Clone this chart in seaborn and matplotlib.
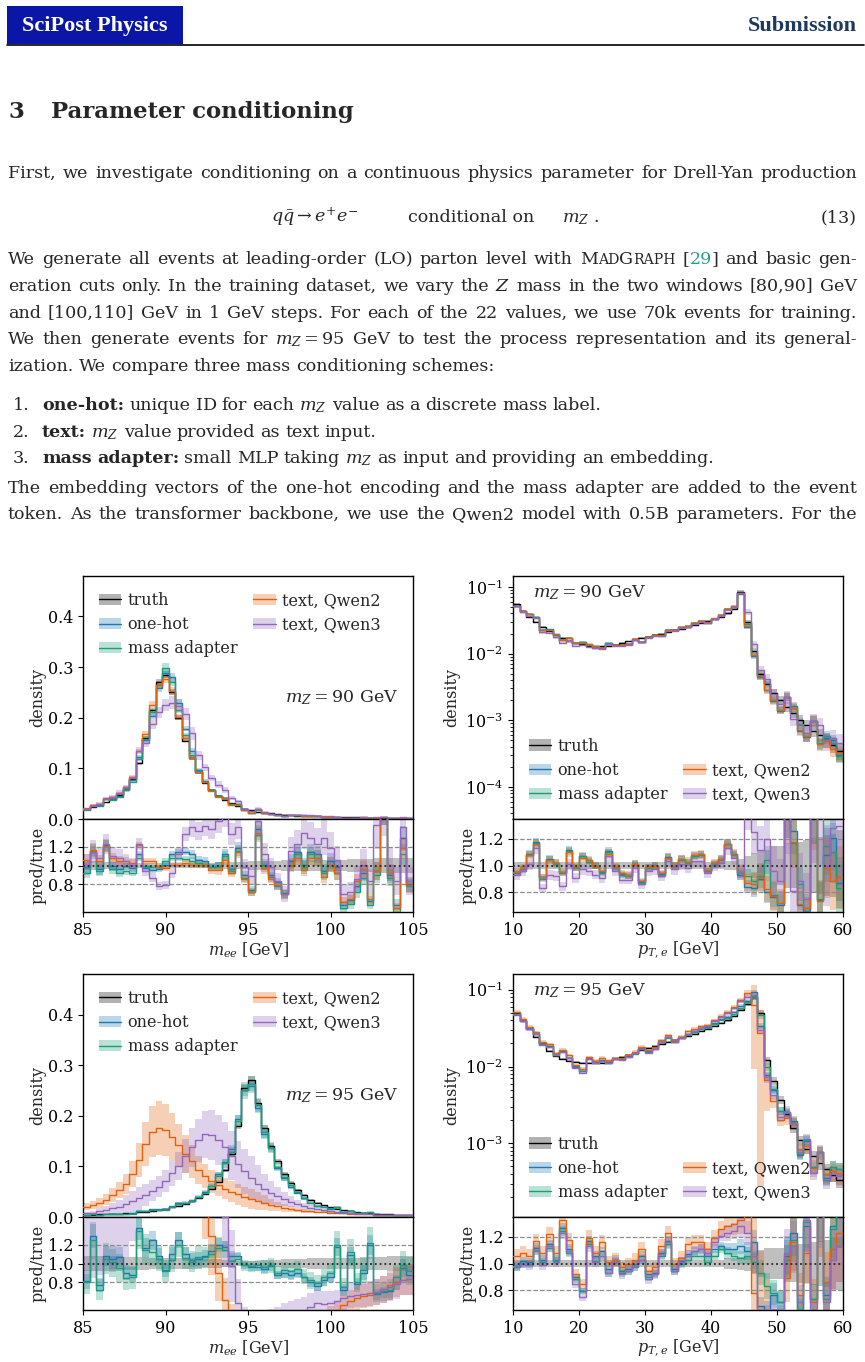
import matplotlib
matplotlib.use("Agg")
import matplotlib.pyplot as plt
import numpy as np
import seaborn as sns
from matplotlib.lines import Line2D
from matplotlib.patches import Patch, Rectangle

# ---------------- data ----------------
models = ["truth", "one-hot", "mass adapter", "text, Qwen2", "text, Qwen3"]
colors = {"truth": "black", "one-hot": "#1f78b4", "mass adapter": "#1b9e77",
          "text, Qwen2": "#e1620d", "text, Qwen3": "#9467bd"}

mee_edges = np.linspace(85, 105, 51)
pt_edges = np.linspace(10, 60, 51)

# m_Z = 90 GeV, m_ee
truth_mee90 = [
    0.020, 0.023, 0.028, 0.033, 0.040, 0.048, 0.060, 0.080, 0.110, 0.160,
    0.215, 0.270, 0.285, 0.250, 0.200, 0.155, 0.120, 0.092, 0.072, 0.058,
    0.046, 0.037, 0.031, 0.025, 0.020, 0.017, 0.014, 0.012, 0.011, 0.0095,
    0.0085, 0.0075, 0.0068, 0.0062, 0.0056, 0.0050, 0.0046, 0.0042, 0.0039, 0.0036,
    0.0034, 0.0032, 0.0030, 0.0028, 0.0026, 0.0025, 0.0024, 0.0023, 0.0022, 0.0021]
r_onehot_mee90 = [
    0.98, 1.14, 0.96, 1.22, 0.99, 0.96, 0.99, 0.97, 1.12, 0.97,
    0.95, 0.96, 1.01, 1.12, 1.15, 1.15, 1.12, 1.06, 1.05, 0.98,
    0.99, 1.12, 0.96, 1.19, 0.90, 0.74, 1.39, 1.01, 0.90, 0.82,
    0.70, 1.05, 1.14, 1.01, 1.15, 1.12, 0.94, 1.05, 0.98, 0.57,
    0.63, 0.78, 0.92, 0.62, 0.94, 1.60, 0.90, 0.58, 1.30, 0.80]
r_adapter_mee90 = [
    0.92, 1.16, 0.94, 1.21, 0.96, 0.92, 0.94, 0.92, 1.08, 0.99,
    0.98, 0.98, 1.05, 1.08, 1.08, 1.07, 1.05, 1.03, 1.01, 0.98,
    0.99, 1.10, 0.94, 1.16, 0.87, 0.72, 1.33, 0.99, 0.88, 0.78,
    0.69, 1.01, 1.12, 0.98, 1.12, 1.08, 0.92, 1.01, 0.92, 0.54,
    0.59, 0.72, 0.87, 0.58, 0.90, 1.60, 0.87, 0.50, 1.12, 0.78]
r_qwen2_mee90 = [
    1.06, 1.17, 1.05, 1.21, 1.08, 1.05, 1.05, 1.03, 1.22, 1.05,
    1.05, 0.98, 0.97, 1.01, 1.01, 1.03, 1.01, 1.01, 1.01, 0.95,
    0.95, 1.06, 0.92, 1.14, 0.85, 0.71, 1.35, 0.97, 0.86, 0.79,
    0.69, 1.00, 1.08, 0.95, 1.08, 1.08, 0.88, 1.01, 0.92, 0.61,
    0.64, 0.83, 0.96, 0.64, 0.94, 1.60, 0.92, 0.54, 1.19, 0.79]
r_qwen3_mee90 = [
    1.01, 1.15, 1.08, 1.23, 1.10, 1.08, 1.05, 1.01, 1.23, 0.94,
    0.87, 0.78, 0.79, 0.92, 1.12, 1.34, 1.41, 1.37, 1.42, 1.39,
    1.48, 1.55, 1.34, 1.41, 0.98, 0.89, 1.48, 1.12, 0.98, 0.83,
    0.69, 1.16, 1.23, 1.35, 1.30, 1.23, 1.30, 1.19, 1.06, 0.69,
    0.71, 0.86, 1.01, 0.83, 1.44, 1.60, 1.01, 0.83, 1.41, 0.83]
err_mee90 = [
    0.06, 0.06, 0.06, 0.05, 0.05, 0.05, 0.04, 0.04, 0.03, 0.03,
    0.03, 0.03, 0.03, 0.03, 0.03, 0.03, 0.04, 0.04, 0.04, 0.04,
    0.05, 0.05, 0.05, 0.05, 0.05, 0.06, 0.06, 0.06, 0.06, 0.06,
    0.07, 0.07, 0.07, 0.07, 0.07, 0.08, 0.08, 0.08, 0.08, 0.08,
    0.09, 0.09, 0.09, 0.09, 0.10, 0.10, 0.10, 0.10, 0.10, 0.10]

# m_Z = 90 GeV, pT_e
truth_pt90 = [
    0.055, 0.044, 0.036, 0.030, 0.025, 0.022, 0.019, 0.017, 0.0155, 0.0145,
    0.0138, 0.0132, 0.0128, 0.0128, 0.0130, 0.0136, 0.0144, 0.0152, 0.0162, 0.0172,
    0.0180, 0.0190, 0.0200, 0.0212, 0.0225, 0.0238, 0.0252, 0.0268, 0.0285, 0.0305,
    0.0330, 0.0360, 0.0400, 0.0470, 0.0850, 0.0300, 0.0110, 0.0050, 0.0035, 0.0026,
    0.0020, 0.0016, 0.0013, 0.0010, 0.00085, 0.00070, 0.00060, 0.00050, 0.00042, 0.00035]
r_onehot_pt90 = [
    0.95, 0.975, 1.09, 1.18, 0.91, 1.05, 1.02, 0.95, 1.12, 0.985,
    1.075, 1.04, 1.0, 0.95, 1.11, 0.985, 0.935, 0.925, 1.015, 0.875,
    0.985, 1.0, 0.935, 1.065, 1.0, 1.05, 1.025, 1.075, 1.085, 0.96,
    1.015, 1.05, 1.165, 1.085, 0.93, 0.84, 0.83, 0.90, 0.80, 0.76,
    0.70, 1.40, 1.26, 0.70, 0.66, 1.40, 0.74, 1.08, 1.21, 0.87]
r_adapter_pt90 = [
    0.945, 0.97, 1.08, 1.17, 0.90, 1.045, 1.01, 0.945, 1.11, 0.98,
    1.07, 1.03, 0.995, 0.945, 1.10, 0.98, 0.93, 0.92, 1.01, 0.87,
    0.98, 0.995, 0.93, 1.06, 0.995, 1.045, 1.02, 1.07, 1.08, 0.96,
    1.01, 1.045, 1.16, 1.08, 0.945, 0.92, 0.88, 0.92, 1.04, 0.78,
    0.72, 1.40, 1.17, 0.86, 0.68, 1.40, 0.75, 1.15, 1.10, 0.83]
r_qwen2_pt90 = [
    0.95, 0.98, 1.08, 1.16, 0.91, 1.04, 1.02, 0.95, 1.10, 0.99,
    1.06, 1.04, 1.0, 0.96, 1.09, 0.99, 0.94, 0.93, 1.01, 0.88,
    0.985, 1.0, 0.94, 1.06, 1.0, 1.05, 1.03, 1.08, 1.085, 0.965,
    1.02, 1.05, 1.16, 1.085, 0.95, 0.87, 0.86, 0.91, 0.82, 0.77,
    0.72, 1.40, 1.18, 0.71, 0.68, 1.40, 0.73, 0.98, 0.88, 0.91]
r_qwen3_pt90 = [
    0.93, 0.957, 1.008, 1.13, 0.83, 0.93, 0.92, 0.844, 1.008, 0.907,
    0.97, 0.957, 0.932, 0.907, 1.07, 0.957, 0.894, 0.894, 0.982, 0.857,
    0.957, 0.97, 0.92, 1.033, 0.97, 1.008, 0.982, 1.033, 1.033, 0.945,
    0.995, 1.02, 1.133, 1.058, 0.95, 1.40, 1.25, 1.12, 1.20, 0.96,
    0.88, 1.40, 0.81, 0.88, 0.75, 1.40, 1.40, 1.0, 1.28, 1.30]
err_pt90 = [
    0.025, 0.025, 0.025, 0.025, 0.025, 0.025, 0.025, 0.025, 0.025, 0.025,
    0.025, 0.025, 0.025, 0.025, 0.025, 0.025, 0.025, 0.025, 0.025, 0.025,
    0.025, 0.025, 0.025, 0.025, 0.025, 0.025, 0.025, 0.025, 0.025, 0.025,
    0.025, 0.025, 0.03, 0.03, 0.04, 0.06, 0.08, 0.10, 0.10, 0.12,
    0.12, 0.14, 0.14, 0.15, 0.16, 0.17, 0.18, 0.19, 0.20, 0.22]

# m_Z = 95 GeV, m_ee
truth_mee95 = [
    0.004, 0.004, 0.005, 0.005, 0.006, 0.006, 0.007, 0.008, 0.009, 0.010,
    0.012, 0.014, 0.016, 0.019, 0.022, 0.026, 0.031, 0.037, 0.045, 0.055,
    0.070, 0.092, 0.125, 0.180, 0.255, 0.270, 0.225, 0.175, 0.140, 0.110,
    0.085, 0.068, 0.053, 0.043, 0.034, 0.028, 0.023, 0.019, 0.016, 0.013,
    0.011, 0.0095, 0.0085, 0.0075, 0.0066, 0.0058, 0.0051, 0.0045, 0.0040, 0.0036]
r_onehot_mee95 = [
    0.81, 1.30, 0.77, 1.08, 1.05, 1.07, 0.90, 0.88, 1.38, 1.17,
    1.25, 1.08, 0.93, 1.10, 1.25, 1.10, 1.04, 1.05, 1.08, 1.13,
    1.20, 1.18, 1.08, 1.08, 0.98, 0.96, 0.96, 0.94, 0.97, 0.88,
    0.90, 0.88, 0.90, 0.85, 0.80, 0.76, 0.82, 0.86, 1.18, 0.72,
    1.09, 0.78, 0.90, 1.20, 0.67, 0.69, 0.70, 0.80, 0.95, 0.88]
r_adapter_mee95 = [
    0.80, 1.25, 0.72, 1.05, 1.02, 0.95, 0.84, 0.85, 1.35, 1.15,
    1.12, 1.05, 0.92, 1.04, 1.20, 1.06, 1.02, 1.07, 1.07, 1.10,
    1.17, 1.15, 1.03, 1.05, 0.98, 0.97, 0.98, 0.96, 0.98, 0.90,
    0.93, 0.92, 0.94, 0.86, 0.82, 0.79, 0.85, 0.90, 1.20, 0.75,
    1.12, 0.80, 0.93, 1.22, 0.68, 0.70, 0.72, 0.85, 0.98, 0.92]
qwen2_mee95 = [
    0.020, 0.024, 0.028, 0.034, 0.043, 0.053, 0.066, 0.085, 0.112, 0.145,
    0.168, 0.176, 0.172, 0.158, 0.142, 0.125, 0.110, 0.092, 0.081, 0.071,
    0.063, 0.056, 0.050, 0.045, 0.040, 0.036, 0.032, 0.028, 0.024, 0.021,
    0.018, 0.016, 0.014, 0.012, 0.011, 0.010, 0.0092, 0.0085, 0.0078, 0.0072,
    0.0066, 0.0060, 0.0055, 0.0050, 0.0046, 0.0042, 0.0039, 0.0036, 0.0033, 0.0030]
qwen3_mee95 = [
    0.007, 0.008, 0.011, 0.013, 0.017, 0.020, 0.025, 0.031, 0.037, 0.044,
    0.052, 0.060, 0.071, 0.086, 0.101, 0.121, 0.138, 0.152, 0.163, 0.162,
    0.152, 0.138, 0.121, 0.104, 0.090, 0.078, 0.066, 0.056, 0.048, 0.041,
    0.035, 0.030, 0.025, 0.021, 0.018, 0.016, 0.013, 0.011, 0.0095, 0.0082,
    0.0072, 0.0063, 0.0057, 0.0051, 0.0046, 0.0042, 0.0038, 0.0035, 0.0033, 0.0030]
err_mee95 = [
    0.10, 0.10, 0.10, 0.10, 0.10, 0.10, 0.09, 0.09, 0.09, 0.09,
    0.08, 0.08, 0.08, 0.08, 0.07, 0.07, 0.07, 0.07, 0.06, 0.06,
    0.06, 0.05, 0.05, 0.04, 0.04, 0.04, 0.04, 0.05, 0.05, 0.05,
    0.06, 0.06, 0.06, 0.06, 0.07, 0.07, 0.07, 0.07, 0.08, 0.08,
    0.08, 0.08, 0.09, 0.09, 0.09, 0.09, 0.10, 0.10, 0.10, 0.10]
err_qwen2_mee95 = [
    0.35, 0.35, 0.34, 0.33, 0.32, 0.31, 0.30, 0.30, 0.30, 0.30,
    0.30, 0.30, 0.30, 0.30, 0.30, 0.30, 0.30, 0.30, 0.30, 0.32,
    0.34, 0.38, 0.42, 0.46, 0.50, 0.55, 0.55, 0.52, 0.48, 0.44,
    0.40, 0.36, 0.32, 0.30, 0.28, 0.26, 0.24, 0.22, 0.20, 0.20,
    0.20, 0.20, 0.20, 0.20, 0.20, 0.20, 0.20, 0.20, 0.20, 0.20]
err_qwen3_mee95 = [
    0.55, 0.58, 0.60, 0.62, 0.68, 0.70, 0.70, 0.68, 0.62, 0.50,
    0.40, 0.34, 0.30, 0.28, 0.28, 0.28, 0.28, 0.28, 0.28, 0.30,
    0.32, 0.36, 0.40, 0.45, 0.50, 0.55, 0.55, 0.52, 0.48, 0.44,
    0.40, 0.36, 0.32, 0.30, 0.28, 0.26, 0.24, 0.22, 0.20, 0.20,
    0.20, 0.20, 0.20, 0.20, 0.20, 0.20, 0.20, 0.20, 0.20, 0.20]

# m_Z = 95 GeV, pT_e
truth_pt95 = [
    0.049, 0.039, 0.031, 0.024, 0.0195, 0.016, 0.0138, 0.0125, 0.0118, 0.0113,
    0.0111, 0.0110, 0.0110, 0.0112, 0.0118, 0.0125, 0.0133, 0.0142, 0.0152, 0.0162,
    0.0172, 0.0183, 0.0195, 0.0208, 0.0220, 0.0235, 0.0250, 0.0268, 0.0288, 0.0310,
    0.0335, 0.0365, 0.0400, 0.0460, 0.0550, 0.0660, 0.0800, 0.0500, 0.0120, 0.0065,
    0.0037, 0.0024, 0.0016, 0.0011, 0.00085, 0.00068, 0.00055, 0.00046, 0.00039, 0.00033]
r_onehot_pt95 = [
    0.98, 1.02, 1.01, 1.12, 1.03, 1.145, 1.03, 1.27, 1.11, 0.895,
    0.795, 1.17, 1.06, 1.095, 0.96, 1.03, 0.945, 0.96, 0.995, 1.06,
    0.92, 0.93, 1.08, 1.17, 0.96, 1.02, 1.07, 1.095, 1.11, 1.06,
    1.11, 1.13, 1.11, 1.11, 1.13, 1.095, 1.16, 0.68, 0.64, 0.76,
    0.71, 1.06, 1.23, 0.64, 1.28, 0.73, 1.40, 0.76, 1.28, 1.40]
r_adapter_pt95 = [
    0.97, 0.995, 0.995, 1.095, 1.01, 1.12, 1.02, 1.245, 1.08, 0.88,
    0.795, 1.145, 1.02, 1.06, 0.93, 1.01, 0.93, 0.945, 0.97, 1.03,
    0.895, 0.92, 1.06, 1.145, 0.945, 0.995, 1.03, 1.06, 1.06, 1.01,
    1.06, 1.11, 1.08, 1.06, 1.045, 1.06, 1.01, 0.93, 0.83, 0.78,
    0.71, 1.03, 1.18, 0.66, 1.31, 0.73, 1.40, 0.73, 1.26, 1.40]
r_qwen2_pt95 = [
    1.06, 1.08, 1.06, 1.17, 1.08, 1.22, 1.08, 1.33, 1.18, 0.92,
    0.845, 1.195, 1.08, 1.16, 1.01, 1.03, 0.97, 0.995, 1.03, 1.11,
    0.945, 0.97, 1.13, 1.23, 0.995, 1.045, 1.145, 1.16, 1.16, 1.11,
    1.195, 1.26, 1.28, 1.295, 1.33, 1.36, 0.78, 0.55, 0.55, 0.55,
    0.55, 0.89, 1.16, 0.76, 1.08, 0.71, 1.40, 0.86, 1.11, 1.23]
r_qwen3_pt95 = [
    0.98, 1.0, 0.99, 1.1, 0.99, 1.13, 1.01, 1.23, 1.095, 0.845,
    0.745, 1.13, 1.01, 1.06, 0.93, 1.01, 0.92, 0.945, 0.98, 1.03,
    0.88, 0.92, 1.07, 1.16, 0.945, 1.01, 1.06, 1.095, 1.11, 1.08,
    1.16, 1.21, 1.23, 1.245, 1.28, 1.23, 1.06, 0.60, 0.60, 0.66,
    0.60, 1.08, 1.13, 0.71, 1.33, 0.60, 1.40, 0.71, 1.03, 1.13]
err_pt95 = [
    0.03, 0.03, 0.03, 0.03, 0.03, 0.03, 0.03, 0.03, 0.03, 0.03,
    0.03, 0.03, 0.03, 0.03, 0.03, 0.03, 0.03, 0.03, 0.03, 0.03,
    0.03, 0.03, 0.03, 0.03, 0.03, 0.03, 0.03, 0.03, 0.03, 0.03,
    0.03, 0.03, 0.04, 0.04, 0.05, 0.06, 0.08, 0.10, 0.12, 0.12,
    0.12, 0.14, 0.14, 0.15, 0.15, 0.16, 0.17, 0.18, 0.19, 0.20]
err_qwen2_pt95 = [
    0.045, 0.045, 0.045, 0.045, 0.045, 0.045, 0.045, 0.045, 0.045, 0.045,
    0.045, 0.045, 0.045, 0.045, 0.045, 0.045, 0.045, 0.045, 0.045, 0.045,
    0.045, 0.045, 0.045, 0.045, 0.045, 0.045, 0.045, 0.045, 0.045, 0.045,
    0.05, 0.05, 0.06, 0.06, 0.08, 0.10, 0.85, 0.99, 0.60, 0.20,
    0.18, 0.20, 0.20, 0.22, 0.22, 0.24, 0.25, 0.26, 0.28, 0.30]


def from_ratios(truth, ratios):
    t = np.asarray(truth)
    return {m: t * np.asarray(r) for m, r in ratios.items()}


def scaled(err, scales):
    return {m: np.asarray(err) * s for m, s in zip(models, scales)}


panels = [
    dict(edges=mee_edges, truth=np.asarray(truth_mee90), kind="mee", label=r"$m_Z = 90$ GeV",
         pred=from_ratios(truth_mee90, {"one-hot": r_onehot_mee90, "mass adapter": r_adapter_mee90,
                                         "text, Qwen2": r_qwen2_mee90, "text, Qwen3": r_qwen3_mee90}),
         err=scaled(err_mee90, [0.8, 1, 1, 1, 1.8])),
    dict(edges=pt_edges, truth=np.asarray(truth_pt90), kind="pt", label=r"$m_Z = 90$ GeV",
         ylim=(3.3e-5, 0.146),
         pred=from_ratios(truth_pt90, {"one-hot": r_onehot_pt90, "mass adapter": r_adapter_pt90,
                                        "text, Qwen2": r_qwen2_pt90, "text, Qwen3": r_qwen3_pt90}),
         err=scaled(err_pt90, [1.2, 1, 1, 1.2, 1.6])),
    dict(edges=mee_edges, truth=np.asarray(truth_mee95), kind="mee", label=r"$m_Z = 95$ GeV",
         pred={**from_ratios(truth_mee95, {"one-hot": r_onehot_mee95, "mass adapter": r_adapter_mee95}),
               "text, Qwen2": np.asarray(qwen2_mee95), "text, Qwen3": np.asarray(qwen3_mee95)},
         err={**scaled(err_mee95, [0.8, 1, 1.6, 1, 1]),
              "text, Qwen2": np.asarray(err_qwen2_mee95), "text, Qwen3": np.asarray(err_qwen3_mee95)}),
    dict(edges=pt_edges, truth=np.asarray(truth_pt95), kind="pt", label=r"$m_Z = 95$ GeV",
         ylim=(1.1e-4, 0.16),
         pred=from_ratios(truth_pt95, {"one-hot": r_onehot_pt95, "mass adapter": r_adapter_pt95,
                                        "text, Qwen2": r_qwen2_pt95, "text, Qwen3": r_qwen3_pt95}),
         err={**scaled(err_pt95, [1, 1, 1, 1, 1.2]), "text, Qwen2": np.asarray(err_qwen2_pt95)}),
]

# ---------------- style ----------------
sns.set_style("ticks")
plt.rcParams["font.family"] = ["DejaVu Serif"]
plt.rcParams["mathtext.fontset"] = "dejavuserif"
plt.rcParams["font.size"] = 11.5
plt.rcParams["axes.edgecolor"] = "black"
plt.rcParams["axes.linewidth"] = 1.0
plt.rcParams["xtick.color"] = "black"
plt.rcParams["ytick.color"] = "black"

W, H = 865, 1362
fig = plt.figure(figsize=(W / 100, H / 100), dpi=100)


def rect(l, t, r, b):
    return [l / W, 1 - b / H, (r - l) / W, (b - t) / H]


layout = [((83, 576, 413, 819), (83, 819, 413, 912)),
          ((513, 576, 843, 819), (513, 819, 843, 912)),
          ((83, 974, 413, 1217), (83, 1217, 413, 1310)),
          ((513, 974, 843, 1217), (513, 1217, 843, 1310))]


def band(ax, edges, lo, hi, color, alpha=0.3):
    ax.fill_between(edges, np.append(lo, lo[-1]), np.append(hi, hi[-1]), step="post",
                    color=color, alpha=alpha, lw=0, zorder=1)


def steps(ax, edges, vals, color):
    centers = 0.5 * (edges[1:] + edges[:-1])
    sns.histplot(x=list(centers), weights=list(vals), bins=list(edges), element="step", fill=False,
                 color=color, linewidth=1.0, ax=ax, zorder=3)


for p, (mrect, rrect) in zip(panels, layout):
    ax = fig.add_axes(rect(*mrect))
    rax = fig.add_axes(rect(*rrect), sharex=ax)
    e, t = p["edges"], p["truth"]
    for m in models:
        y = t if m == "truth" else p["pred"][m]
        er = p["err"][m]
        a = 0.25 if m == "truth" else 0.3
        band(ax, e, np.clip(y * (1 - er), 1e-7, None), y * (1 + er), colors[m], a)
        band(rax, e, y / t * (1 - er), y / t * (1 + er), colors[m], a)
    for m in models:
        y = t if m == "truth" else p["pred"][m]
        steps(ax, e, y, colors[m])
        if m != "truth":
            steps(rax, e, y / t, colors[m])

    rax.axhline(1.2, color="0.55", ls="--", lw=0.9, zorder=2)
    rax.axhline(0.8, color="0.55", ls="--", lw=0.9, zorder=2)
    rax.axhline(1.0, color="0.15", ls=":", lw=1.3, zorder=5)
    rax.set_yticks([0.8, 1.0, 1.2])
    ax.tick_params(axis="x", labelbottom=False, length=0)

    if p["kind"] == "mee":
        ax.set_ylim(0, 0.48)
        ax.set_yticks([0.0, 0.1, 0.2, 0.3, 0.4])
        rax.set_ylim(0.5, 1.5)
        rax.set_xlim(85, 105)
        rax.set_xticks([85, 90, 95, 100, 105])
        rax.set_xlabel(r"$m_{ee}$ [GeV]", labelpad=1)
        ax.text(0.955, 0.50, p["label"], transform=ax.transAxes, ha="right", va="center", size=12.5)
        ax.yaxis.set_label_coords(-0.112, 0.5)
        leg_loc = "upper left"
        blank = False
    else:
        ax.set_yscale("log")
        ax.set_ylim(*p["ylim"])
        rax.set_ylim(0.65, 1.35)
        rax.set_xlim(10, 60)
        rax.set_xticks([10, 20, 30, 40, 50, 60])
        rax.set_xlabel(r"$p_{T,e}$ [GeV]", labelpad=1)
        ax.text(0.062, 0.93, p["label"], transform=ax.transAxes, ha="left", va="center", size=12.5)
        ax.yaxis.set_label_coords(-0.16, 0.5)
        leg_loc = "lower left"
        blank = True
    ax.set_ylabel("density")
    rax.set_ylabel("pred/true")
    rax.yaxis.set_label_coords(-0.112, 0.5)
    ax.set_xlabel("")

    handles, labels = [], []
    for m in models:
        handles.append((Patch(facecolor=colors[m], alpha=0.3, lw=0), Line2D([], [], color=colors[m], lw=1.0)))
        labels.append(m)
        if blank and m == "mass adapter":
            handles.append(Line2D([], [], alpha=0))
            labels.append("")
    ax.legend(handles, labels, loc=leg_loc, ncol=2, frameon=False, handlelength=1.4,
              handletextpad=0.4, labelspacing=0.45, columnspacing=1.0, borderaxespad=0.6)

# ---------------- page text ----------------
renderer = fig.canvas.get_renderer()
BODY = dict(family="DejaVu Serif", size=12.6, math_fontfamily="dejavuserif")
styles = {"n": BODY, "b": dict(BODY, weight="bold"), "c": dict(BODY, color="#2a9d8f"),
          "s": dict(BODY, size=10.1)}


def fx(x):
    return x / W


def fy(y):
    return 1 - y / H


def text_line(y, segs, x0=8, x1=857, justify=True):
    words = [[]]
    for txt, st in segs:
        for k, piece in enumerate(txt.split(" ")):
            if k > 0:
                words.append([])
            if piece:
                words[-1].append((piece, st))
    words = [w for w in words if w]
    placed, widths = [], []
    for w in words:
        objs = []
        for piece, st in w:
            o = fig.text(0, fy(y), piece, va="baseline", ha="left", **styles[st])
            objs.append((o, o.get_window_extent(renderer).width))
        placed.append(objs)
        widths.append(sum(wd for _, wd in objs))
    gap = 5.2
    if justify and len(words) > 1:
        gap = (x1 - x0 - sum(widths)) / (len(words) - 1)
        if gap < 3.5:
            # too long for the column: shrink this line a little
            k = (x1 - x0 - 3.5 * (len(words) - 1)) / sum(widths)
            for objs in placed:
                for o, _ in objs:
                    o.set_fontsize(o.get_fontsize() * k)
            placed = [[(o, wd * k) for o, wd in objs] for objs in placed]
            gap = 3.5
    x = x0
    for objs in placed:
        for o, wd in objs:
            o.set_x(fx(x))
            x += wd
        x += gap


# header
fig.add_artist(Rectangle((fx(7), fy(44)), 176 / W, 38 / H, transform=fig.transFigure,
                         facecolor="#0a16a6", edgecolor="none"))
fig.add_artist(Line2D([fx(7), fx(864)], [fy(44.5), fy(44.5)], transform=fig.transFigure,
                      color="black", lw=1.2))
fig.text(fx(95), fy(31), "SciPost Physics", color="white", weight="bold", family="Liberation Serif",
         size=16, ha="center", va="baseline")
fig.text(fx(857), fy(31), "Submission", color="#1c3a5e", weight="bold", family="Liberation Serif",
         size=16, ha="right", va="baseline")

fig.text(fx(8), fy(118), "3", weight="bold", family="DejaVu Serif", size=16.4, va="baseline")
fig.text(fx(51), fy(118), "Parameter conditioning", weight="bold", family="DejaVu Serif",
         size=16.4, va="baseline")

text_line(178, [("First, we investigate conditioning on a continuous physics parameter for Drell-Yan production", "n")])

fig.text(fx(315), fy(222), r"$q\bar{q} \rightarrow e^{+}e^{-}$", ha="center", va="baseline", **BODY)
fig.text(fx(408), fy(222), "conditional on", ha="left", va="baseline", **BODY)
fig.text(fx(562), fy(222), r"$m_Z$ .", ha="left", va="baseline", **BODY)
fig.text(fx(857), fy(222), "(13)", ha="right", va="baseline", **BODY)

text_line(264, [("We generate all events at leading-order (LO) parton level with M", "n"), ("AD", "s"),
                ("G", "n"), ("RAPH", "s"), (" [", "n"), ("29", "c"), ("] and basic gen-", "n")])
text_line(291, [("eration cuts only. In the training dataset, we vary the $Z$ mass in the two windows [80,90] GeV", "n")])
text_line(318, [("and [100,110] GeV in 1 GeV steps. For each of the 22 values, we use 70k events for training.", "n")])
text_line(344, [("We then generate events for $m_Z=95$ GeV to test the process representation and its general-", "n")])
text_line(371, [("ization. We compare three mass conditioning schemes:", "n")], justify=False)

items = [("1.", [("one-hot:", "b"), (" unique ID for each $m_Z$ value as a discrete mass label.", "n")]),
         ("2.", [("text:", "b"), (" $m_Z$ value provided as text input.", "n")]),
         ("3.", [("mass adapter:", "b"), (" small MLP taking $m_Z$ as input and providing an embedding.", "n")])]
for (num, segs), y in zip(items, [410, 437, 463]):
    fig.text(fx(13), fy(y), num, va="baseline", ha="left", **BODY)
    text_line(y, segs, x0=42, justify=False)

text_line(493, [("The embedding vectors of the one-hot encoding and the mass adapter are added to the event", "n")])
text_line(519, [("token. As the transformer backbone, we use the Qwen2 model with 0.5B parameters. For the", "n")])

fig.savefig("out.png", dpi=100)
